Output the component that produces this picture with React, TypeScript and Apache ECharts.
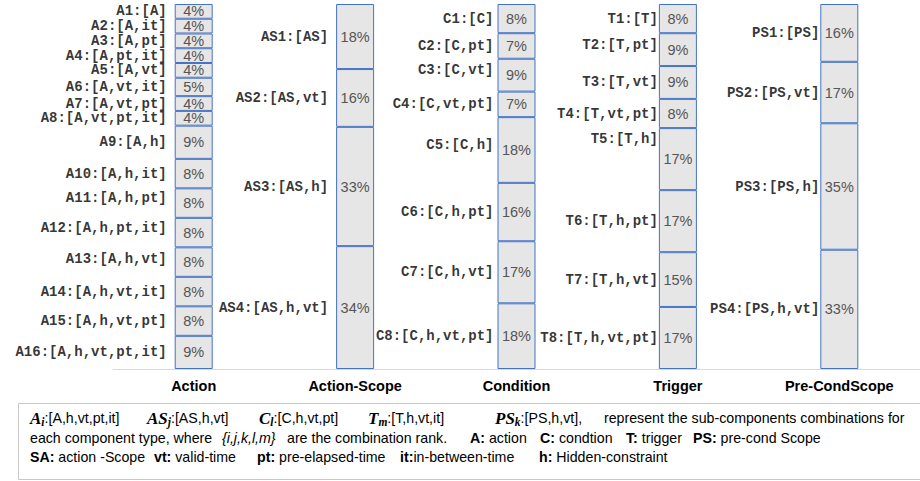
import React, { useEffect, useRef } from 'react';
import * as echarts from 'echarts';

const categories = ['Action', 'Action-Scope', 'Condition', 'Trigger', 'Pre-CondScope'];

const actionNames = ['A1:[A]', 'A2:[A,it]', 'A3:[A,pt]', 'A4:[A,pt,it]', 'A5:[A,vt]', 'A6:[A,vt,it]', 'A7:[A,vt,pt]', 'A8:[A,vt,pt,it]', 'A9:[A,h]', 'A10:[A,h,it]', 'A11:[A,h,pt]', 'A12:[A,h,pt,it]', 'A13:[A,h,vt]', 'A14:[A,h,vt,it]', 'A15:[A,h,vt,pt]', 'A16:[A,h,vt,pt,it]'];
const actionValues = [4, 4, 4, 4, 4, 5, 4, 4, 9, 8, 8, 8, 8, 8, 8, 9];

const scopeNames = ['AS1:[AS]', 'AS2:[AS,vt]', 'AS3:[AS,h]', 'AS4:[AS,h,vt]'];
const scopeValues = [18, 16, 33, 34];

const conditionNames = ['C1:[C]', 'C2:[C,pt]', 'C3:[C,vt]', 'C4:[C,vt,pt]', 'C5:[C,h]', 'C6:[C,h,pt]', 'C7:[C,h,vt]', 'C8:[C,h,vt,pt]'];
const conditionValues = [8, 7, 9, 7, 18, 16, 17, 18];

const triggerNames = ['T1:[T]', 'T2:[T,pt]', 'T3:[T,vt]', 'T4:[T,vt,pt]', 'T5:[T,h]', 'T6:[T,h,pt]', 'T7:[T,h,vt]', 'T8:[T,h,vt,pt]'];
const triggerValues = [8, 9, 9, 8, 17, 17, 15, 17];

const preCondNames = ['PS1:[PS]', 'PS2:[PS,vt]', 'PS3:[PS,h]', 'PS4:[PS,h,vt]'];
const preCondValues = [16, 17, 35, 33];

// style-only: gap between name labels and bar, per column; small vertical nudges of some name labels
const labelGaps = [8, 8, 4, 1, 1];
const labelNudges: Record<string, number> = {
  'T5:[T,h]': -20, 'C3:[C,vt]': -5, 'C5:[C,h]': -5, 'A11:[A,h,pt]': -5, 'A12:[A,h,pt,it]': -5, 'T2:[T,pt]': -5, 'A13:[A,h,vt]': -3,
};

const SANS = 'Liberation Sans, Arial, sans-serif';
const MONO = 'Liberation Mono, Courier New, monospace';
const SERIF = 'Liberation Serif, Times New Roman, serif';

export default function App() {
  const ref = useRef<HTMLDivElement>(null);
  useEffect(() => {
    if (!ref.current) return;
    const chart = echarts.init(ref.current, null, { renderer: 'svg' });
    const columns = [
      { names: actionNames, values: actionValues },
      { names: scopeNames, values: scopeValues },
      { names: conditionNames, values: conditionValues },
      { names: triggerNames, values: triggerValues },
      { names: preCondNames, values: preCondValues },
    ];
    const sums = columns.map((c) => c.values.reduce((a, b) => a + b, 0));
    const maxSeg = Math.max(...columns.map((c) => c.values.length));
    const series: any[] = [];
    for (let k = 0; k < maxSeg; k++) {
      const data = columns.map((col, ci) => {
        const idx = col.values.length - 1 - k;
        if (idx < 0) return { value: '-', raw: null };
        return { value: (col.values[idx] / sums[ci]) * 100, raw: col.values[idx] };
      });
      series.push({
        type: 'bar',
        stack: 'all',
        barWidth: 38,
        data,
        itemStyle: { color: '#e6e6e6', borderColor: '#4472c4', borderWidth: 1 },
        label: {
          show: true,
          position: 'inside',
          formatter: (p: any) => (p.data && p.data.raw != null ? p.data.raw + '%' : ''),
          color: '#555555',
          fontSize: 14.5,
          fontFamily: SANS,
        },
        silent: true,
      });
    }
    const labelData: any[] = [];
    columns.forEach((col, ci) => {
      let top = 100;
      col.values.forEach((v, i) => {
        const h = (v / sums[ci]) * 100;
        const mid = top - h / 2;
        top -= h;
        labelData.push({
          value: [ci, mid],
          name: col.names[i],
          label: { distance: labelGaps[ci], offset: [0, labelNudges[col.names[i]] || 0] },
        });
      });
    });
    series.push({
      type: 'scatter',
      symbol: 'rect',
      symbolSize: [38, 2],
      itemStyle: { color: 'rgba(0,0,0,0)' },
      data: labelData,
      silent: true,
      z: 5,
      label: {
        show: true,
        position: 'left',
        formatter: '{b}',
        fontFamily: MONO,
        fontWeight: 'bold',
        fontSize: 14,
        color: '#000',
      },
    });

    const FS = 14.2;
    const sym = { fontFamily: SERIF, fontStyle: 'italic', fontWeight: 'bold', fontSize: 17, fill: '#000', lineHeight: 20 };
    const sub = { fontFamily: SERIF, fontStyle: 'italic', fontWeight: 'bold', fontSize: 11.5, fill: '#000', lineHeight: 11, verticalAlign: 'bottom' };
    const txt = { fontFamily: SANS, fontSize: FS, fill: '#000', lineHeight: 20 };
    const bold = { fontFamily: SANS, fontSize: FS, fontWeight: 'bold', fill: '#000', lineHeight: 20 };
    const rich = { m: sym, s: sub, t: txt, b: bold };
    const mk = (x: number, y: number, text: string) => ({
      type: 'text',
      x,
      y,
      silent: true,
      style: { text, rich, fontFamily: SANS, fontSize: FS, fill: '#000', verticalAlign: 'middle' },
    });
    const y1 = 418, y2 = 438, y3 = 457;
    const graphic: any[] = [
      { type: 'rect', silent: true, shape: { x: 18.5, y: 403.5, width: 940, height: 76 }, style: { fill: 'none', stroke: '#c8c8c8', lineWidth: 1 } },
      mk(30, y1, '{m|A}{s|i}{t|:[A,h,vt,pt,it]}'),
      mk(147, y1, '{m|AS}{s|j}{t|:[AS,h,vt]}'),
      mk(259, y1, '{m|C}{s|l}{t|:[C,h,vt,pt]}'),
      mk(368, y1, '{m|T}{s|m}{t|:[T,h,vt,it]}'),
      mk(495, y1, '{m|PS}{s|k}{t|:[PS,h,vt],}'),
      mk(604, y1, '{t|represent the sub-components combinations for}'),
      mk(30, y2, '{t|each component type, where}'),
      { type: 'text', x: 222, y: y2, silent: true, style: { text: '{i,j,k,l,m}', fontFamily: SANS, fontStyle: 'italic', fontSize: FS, fill: '#000', verticalAlign: 'middle' } },
      mk(287, y2, '{t|are the combination rank.}'),
      mk(470, y2, '{b|A:}{t| action}'),
      mk(540, y2, '{b|C:}{t| condtion}'),
      mk(626, y2, '{b|T:}{t| trigger}'),
      mk(693, y2, '{b|PS:}{t| pre-cond Scope}'),
      mk(30, y3, '{b|SA:}{t| action -Scope}'),
      mk(154, y3, '{b|vt:}{t| valid-time}'),
      mk(257, y3, '{b|pt:}{t| pre-elapsed-time}'),
      mk(400, y3, '{b|it:}{t|in-between-time}'),
      mk(539, y3, '{b|h:}{t| Hidden-constraint}'),
    ];

    chart.setOption({
      animation: false,
      grid: { left: 113, top: 4, width: 818, height: 365 },
      xAxis: {
        type: 'category',
        data: categories,
        axisLine: { lineStyle: { color: '#d9d9d9', width: 1 } },
        axisTick: { show: false },
        axisLabel: { fontFamily: SANS, fontWeight: 'bold', fontSize: 14.5, color: '#000', margin: 9 },
      },
      yAxis: { type: 'value', min: 0, max: 100, show: false },
      series,
      graphic,
    });
    return () => chart.dispose();
  }, []);
  return <div ref={ref} style={{ position: 'absolute', left: 0, top: 0, width: 920, height: 481 }} />;
}
